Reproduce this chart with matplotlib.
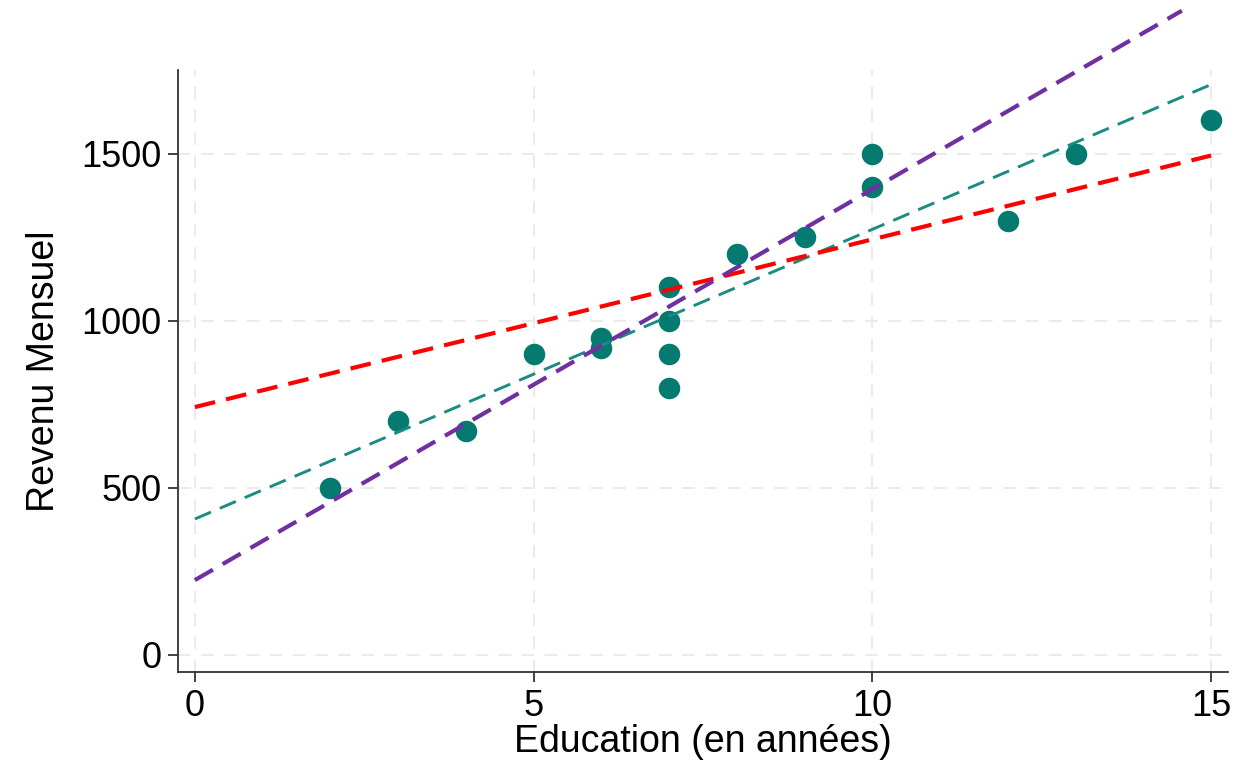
'''
Revenu mensuel vs education, with three fitted lines
'''
import numpy as np
import matplotlib.pyplot as plt

# data
educ = [2, 3, 4, 5, 6, 6, 7, 7, 7, 7, 8, 9, 10, 10, 12, 13, 15]
revenu = [500, 700, 670, 900, 950, 920, 1100, 1000, 900, 800, 1200, 1250, 1500, 1400, 1300, 1500, 1600]

# fitted lines: intercept, slope, x range
line_names = ["teal", "red", "purple"]
intercepts = [407, 742, 224]
slopes = [86.7, 50.2, 117.0]
x_ends = [15, 15, 14.57]

plt.rcParams['font.family'] = ['Liberation Sans', 'DejaVu Sans']

def makePlot():
    fig = plt.figure(figsize=(12.53, 7.73), dpi=100)
    ax = fig.add_axes([0.142, 0.1307, 0.838, 0.7787])

    ax.set_xlim(-0.25, 15.25)
    ax.set_ylim(-51, 1751)
    ax.set_xticks([0, 5, 10, 15])
    ax.set_yticks([0, 500, 1000, 1500])
    ax.grid(True, color="#ebebeb", linestyle=(0, (6, 5)), linewidth=1.5)
    ax.set_axisbelow(True)

    ax.scatter(educ, revenu, s=240, color="#047a70", zorder=3, linewidths=0)

    styles = {
        "teal": dict(color="#1a8c82", lw=2.1, dashes=(6, 3.3)),
        "red": dict(color="#ff0000", lw=3.0, dashes=(5, 2.7)),
        "purple": dict(color="#7030a0", lw=3.0, dashes=(5, 2.7)),
    }
    for name, a, b, xe in zip(line_names, intercepts, slopes, x_ends):
        xs = np.array([0, xe])
        ax.plot(xs, a + b * xs, clip_on=False, zorder=4, **styles[name])

    for side in ["top", "right"]:
        ax.spines[side].set_visible(False)
    for side in ["left", "bottom"]:
        ax.spines[side].set_color("#333333")
        ax.spines[side].set_linewidth(1.3)
    ax.tick_params(colors="#333333", labelcolor="black", length=7, width=1.3,
                   labelsize=26, pad=5)

    ax.set_xlabel("Education (en années)", fontsize=27, labelpad=0)
    ax.set_ylabel("Revenu Mensuel", fontsize=27, labelpad=14)

    fig.savefig("out.png", dpi=100)

if __name__ == "__main__":
    makePlot()
